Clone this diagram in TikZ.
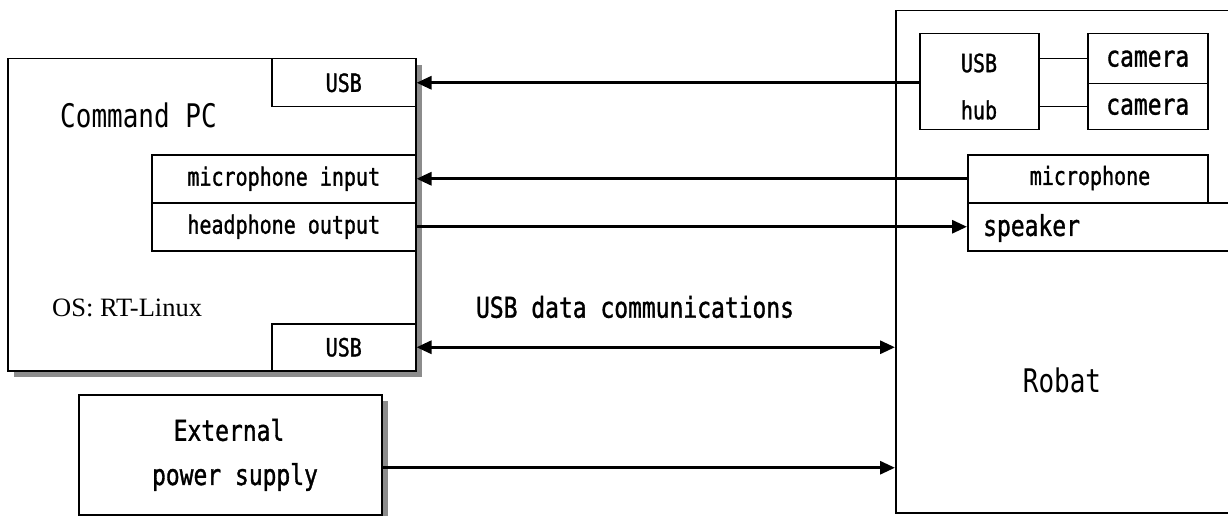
\documentclass[tikz,border=0pt]{standalone}
\usepackage{fontspec}
\setmainfont{Liberation Serif}
\newfontfamily\lbl[FakeStretch=0.8]{DejaVu Sans Mono}
\newfontfamily\lblb[FakeStretch=0.8,FakeBold=1.2]{DejaVu Sans Mono}
\usetikzlibrary{arrows.meta,shadows,calc}

\newcommand\szS{\lblb\fontsize{25}{28}\selectfont}
\newcommand\szM{\lblb\fontsize{28.7}{32}\selectfont}
\newcommand\szL{\lbl\fontsize{32.5}{36}\selectfont}

\tikzset{
  blk/.style={draw, line width=1.5pt, fill=white, rectangle, inner sep=0pt, anchor=north west},
  shadowed/.style={drop shadow={shadow xshift=6pt, shadow yshift=-6pt, fill=gray!90, opacity=1}},
  txt/.style={inner sep=0pt},
  link/.style={line width=3pt, -{Triangle[length=15pt,width=13pt]}},
  biglink/.style={line width=3pt, {Triangle[length=15pt,width=13pt]}-{Triangle[length=15pt,width=13pt]}},
  thin link/.style={line width=1.5pt}
}

\begin{document}
\begin{tikzpicture}[x=1pt,y=-1pt]
\useasboundingbox (0,0) rectangle (1228,516);

% Command PC with its ports
\node[blk, shadowed, minimum width=408pt, minimum height=312pt] (pc) at (7,58) {};
\node[blk, minimum width=144pt, minimum height=48pt] (usbA) at (271,58) {};
\node[txt] (usbAt) at (usbA.center) {\szS USB};
\node[blk, minimum width=264pt, minimum height=48pt] (micin) at (151,154) {};
\node[txt] (micint) at (micin.center) {\szS microphone input};
\node[blk, minimum width=264pt, minimum height=48pt] (hpout) at (151,202) {};
\node[txt] (hpoutt) at (hpout.center) {\szS headphone output};
\node[blk, minimum width=144pt, minimum height=47pt] (usbB) at (271,323) {};
\node[txt] (usbBt) at (usbB.center) {\szS USB};
\node[txt, anchor=west] (pct) at (60,115) {\szL Command PC};
\node[txt, anchor=west] (ost) at (52,308) {\fontsize{26.5}{30}\selectfont OS: RT-Linux};

% External power supply
\node[blk, shadowed, minimum width=303pt, minimum height=120pt] (ext) at (78,394) {};
\node[txt] (extA) at (229,430) {\szM External};
\node[txt] (extB) at (235,477) {\szM power supply};

% Robat and its devices
\node[blk, minimum width=350pt, minimum height=502pt] (robat) at (895,10) {};
\node[txt] (robatt) at (1062,380) {\szL Robat};
\node[blk, minimum width=119pt, minimum height=96pt] (hub) at (919,33) {};
\node[txt] (hubA) at (979,63) {\szS USB};
\node[txt] (hubB) at (979,110) {\szS hub};
\node[blk, minimum width=120pt, minimum height=50pt] (cam1) at (1087,33) {};
\node[txt] (cam1t) at (cam1.center) {\szM camera};
\node[blk, minimum width=120pt, minimum height=46pt] (cam2) at (1087,83) {};
\node[txt] (cam2t) at (cam2.center) {\szM camera};
\node[blk, minimum width=240pt, minimum height=48pt] (mic) at (967,154) {};
\node[txt] (mict) at (1090,178) {\szS microphone};
\node[blk, minimum width=278pt, minimum height=48pt] (spk) at (967,202) {};
\node[txt, anchor=west] (spkt) at (983,228) {\szM speaker};

\node[txt] (usblabel) at (635,307) {\szM USB data communications};

% connections
\draw[thin link] (cam1.west -| hub.east) -- (cam1.west);
\draw[thin link] (cam2.west -| hub.east) -- (cam2.west);
\draw[link] ($(hub.west)+(0,1)$) -- ($(hub.west -| usbA.east)+(0,1)$);
\draw[link] (mic.west) -- (micin.east);
\draw[link] (hpout.east) -- (spk.west);
\draw[biglink] (usbB.east) -- (usbB.east -| robat.west);
\draw[link] ($(ext.east)+(0,13)$) -- ($(ext.east -| robat.west)+(0,13)$);
\end{tikzpicture}
\end{document}
